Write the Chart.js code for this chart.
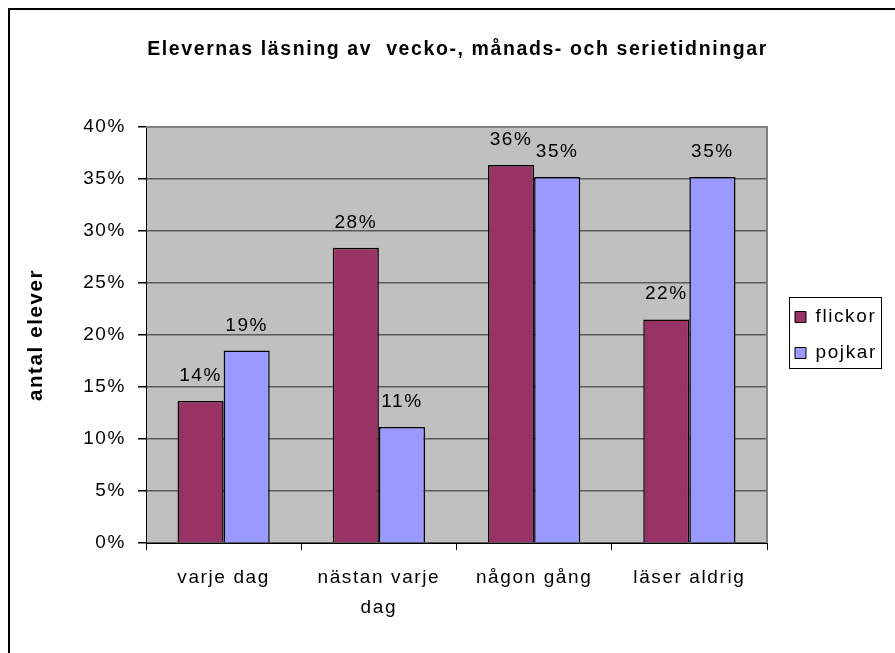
<!DOCTYPE html>
<html>
<head>
<meta charset="utf-8">
<script src="https://cdn.jsdelivr.net/npm/chart.js@4.4.1/dist/chart.umd.min.js"></script>
<style>
  html, body { margin: 0; padding: 0; background: #fff; }
  #wrap { width: 895px; height: 653px; position: relative; }
</style>
</head>
<body>
<div id="wrap"><canvas id="c" width="895" height="653"></canvas></div>
<script>
const titleText = 'Elevernas läsning av  vecko-, månads- och serietidningar';
const yAxisTitle = 'antal elever';
const categories = ['varje dag', ['nästan varje', 'dag'], 'någon gång', 'läser aldrig'];
const seriesNames = ['flickor', 'pojkar'];
const flickor = [13.65, 28.4, 36.35, 21.5];
const pojkar = [18.5, 11.15, 35.2, 35.2];
const yMin = 0, yMax = 40, yStep = 5;

const FONT = "'Liberation Sans', Arial, sans-serif";
const LS = '1.6px';

const spacingPlugin = {
  id: 'spacing',
  beforeUpdate(chart) { chart.ctx.letterSpacing = LS; },
  beforeLayout(chart) {
    chart.ctx.letterSpacing = LS;
    const lg = chart.legend;
    if (lg && !lg._patched) {
      const orig = lg.fit;
      lg.fit = function () { orig.call(this); this.width = 128; };
      lg._patched = true;
    }
  },
  afterLayout(chart) {
    const lg = chart.legend;
    if (lg) { lg.left += 11; lg.right += 11; }
    const tb = chart.titleBlock;
    if (tb) { tb.left += 10; tb.right += 10; }
  },
  beforeDraw(chart) {
    const ctx = chart.ctx;
    ctx.letterSpacing = LS;
    const a = chart.chartArea;
    ctx.save();
    ctx.fillStyle = '#C0C0C0';
    ctx.fillRect(a.left, a.top, a.right - a.left, a.bottom - a.top);
    ctx.restore();
  },
  beforeDatasetsDraw(chart) {
    const ctx = chart.ctx;
    const a = chart.chartArea;
    ctx.save();
    ctx.strokeStyle = '#808080';
    ctx.lineWidth = 2;
    ctx.beginPath();
    ctx.moveTo(a.left, a.top);
    ctx.lineTo(a.right, a.top);
    ctx.lineTo(a.right, a.bottom);
    ctx.stroke();
    ctx.restore();
  },
  afterDatasetsDraw(chart) {
    const ctx = chart.ctx;
    ctx.save();
    ctx.letterSpacing = LS;
    ctx.font = '19px ' + FONT;
    ctx.fillStyle = '#000';
    ctx.textAlign = 'center';
    ctx.textBaseline = 'alphabetic';
    chart.data.datasets.forEach((ds, di) => {
      const meta = chart.getDatasetMeta(di);
      meta.data.forEach((el, i) => {
        ctx.fillText(Math.round(ds.data[i]) + '%', el.x, el.y - 20);
      });
    });
    ctx.restore();
  },
  afterDraw(chart) {
    const ctx = chart.ctx;
    ctx.save();
    const lg = chart.legend;
    if (lg) {
      const a = chart.chartArea;
      const x0 = lg.left + 17 - 6;
      const cy = (a.top + a.bottom) / 2 - 2;
      ctx.strokeStyle = '#000';
      ctx.lineWidth = 1;
      ctx.strokeRect(Math.round(x0) + 0.5, Math.round(cy - 36) + 0.5, 92, 71);
    }
    ctx.strokeStyle = '#000';
    ctx.lineWidth = 2;
    ctx.strokeRect(9, 9, 1000, 1000);
    ctx.restore();
  }
};

Chart.defaults.font.family = FONT;
Chart.defaults.font.size = 19;
Chart.defaults.color = '#000';

new Chart(document.getElementById('c'), {
  type: 'bar',
  data: {
    labels: categories,
    datasets: [
      { label: seriesNames[0], data: flickor, backgroundColor: '#993366', borderColor: '#000', borderWidth: 1.5 },
      { label: seriesNames[1], data: pojkar, backgroundColor: '#9999FF', borderColor: '#000', borderWidth: 1.5 }
    ]
  },
  options: {
    responsive: false,
    animation: false,
    devicePixelRatio: 1,
    layout: { padding: { left: 0, right: 0, top: 0, bottom: 0 } },
    datasets: { bar: { categoryPercentage: 0.594, barPercentage: 1.0 } },
    plugins: {
      title: {
        display: true,
        text: titleText,
        font: { size: 19.5, weight: 'bold', family: FONT, lineHeight: 1.2 },
        color: '#000',
        padding: { top: 38, bottom: 65.6 }
      },
      legend: {
        display: true,
        position: 'right',
        fullSize: false,
        labels: {
          boxWidth: 11,
          boxHeight: 11,
          padding: 17,
          font: { size: 19, family: FONT },
          color: '#000',
          generateLabels(chart) {
            return chart.data.datasets.map((ds, i) => ({
              text: ds.label, fillStyle: ds.backgroundColor, strokeStyle: '#000',
              lineWidth: 1, hidden: false, datasetIndex: i, fontColor: '#000'
            }));
          }
        }
      },
      tooltip: { enabled: false }
    },
    scales: {
      x: {
        offset: true,
        grid: { display: true, drawOnChartArea: false, drawTicks: true, tickLength: 7, tickColor: '#000', offset: true },
        border: { display: true, color: '#000', width: 1 },
        ticks: { padding: 13, font: { size: 19, lineHeight: 1.58 }, maxRotation: 0, autoSkip: false },
        afterFit(scale) { scale.height = 110; }
      },
      y: {
        min: yMin, max: yMax,
        grid: { color: '#5a5a5a', lineWidth: 1.5, tickLength: 8, tickColor: '#000' },
        border: { display: true, color: '#000', width: 1 },
        ticks: { stepSize: yStep, padding: 12, font: { size: 19 }, callback: v => v + '%' },
        title: { display: true, text: yAxisTitle, font: { size: 20.5, weight: 'bold' }, padding: { top: 24, bottom: 0 } },
        afterFit(scale) { scale.width = 146; }
      }
    }
  },
  plugins: [spacingPlugin]
});
</script>
</body>
</html>
